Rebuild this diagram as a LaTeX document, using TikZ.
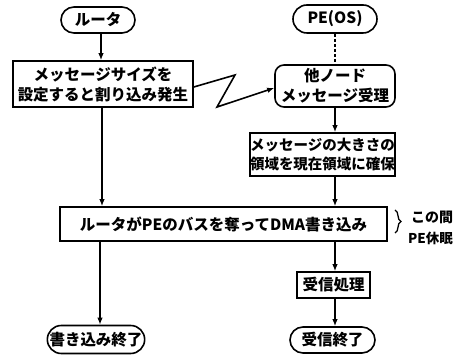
\documentclass[tikz,border=0pt]{standalone}
\usepackage{fontspec}
\setmainfont{Noto Sans CJK JP}
\usetikzlibrary{arrows.meta,decorations.pathreplacing,shapes.misc}
\begin{document}
\begin{tikzpicture}[x=1pt,y=-1pt,
  every node/.style={font=\bfseries\fontsize{15.5}{20}\selectfont, inner sep=0pt, align=center},
  term/.style={draw, line width=1.6pt, rounded rectangle},
  proc/.style={draw, line width=1.6pt, rectangle},
  rproc/.style={draw, line width=1.6pt, rectangle, rounded corners=9pt},
  flow/.style={line width=1.6pt, -{Latex[length=7pt,width=5.5pt]}}]
\useasboundingbox (0,0) rectangle (467,355);
\node[term, minimum width=74pt, minimum height=26pt] (ruta) at (98,20) {ルータ};
\node[proc, minimum width=180pt, minimum height=46pt] (b1) at (103,84) {メッセージサイズを\\設定すると割り込み発生};
\node[term, minimum width=84pt, minimum height=28pt] (peos) at (335,19) {PE(OS)};
\node[rproc, minimum width=120pt, minimum height=42pt] (recv) at (335,86) {他ノード\\メッセージ受理};
\node[proc, minimum width=139pt, minimum height=43pt, font=\bfseries\fontsize{14.5}{19}\selectfont] (b3) at (322.5,154.5) {メッセージの大きさの\\領域を現在領域に確保};
\node[proc, minimum width=327pt, minimum height=34pt] (b4) at (223.5,224) {ルータがPEのバスを奪ってDMA書き込み};
\node[proc, minimum width=73pt, minimum height=26pt] (b5) at (333.5,285) {受信処理};
\node[term, minimum width=96pt, minimum height=28pt] (e1) at (96,339.5) {書き込み終了};
\node[term, minimum width=85pt, minimum height=26pt] (e2) at (332.5,340) {受信終了};
\coordinate (z1) at (235,75);
\coordinate (z2) at (217,107);
\coordinate (bt) at (395,210);
\coordinate (bb) at (395,233);
\draw[flow] (ruta.south -| 101,0) -- (b1.north -| 101,0);
\draw[flow] (b1.south -| 102,0) -- (b4.north -| 102,0);
\draw[flow] (b4.south -| 100,0) -- (e1.north -| 100,0);
\draw[line width=1.6pt, dash pattern=on 3pt off 2pt] (peos.south) -- (recv.north);
\draw[flow] ([yshift=-3pt]b1.east) -- (z1) -- (z2) -- ([yshift=-2pt]recv.west);
\draw[flow] (recv.south -| 335,0) -- (b3.north -| 335,0);
\draw[flow] (b3.south -| 335,0) -- (b4.north -| 335,0);
\draw[flow] (b4.south -| 335,0) -- (b5.north -| 335,0);
\draw[flow] (b5.south -| 335,0) -- (e2.north -| 335,0);
\draw[line width=1.3pt, decoration={brace, amplitude=6pt}, decorate] (bt) -- (bb);
\node[anchor=west, font=\bfseries\fontsize{14}{16}\selectfont] (t1) at (411,217) {この間};
\node[anchor=west, font=\bfseries\fontsize{13.5}{16}\selectfont] (t2) at (408,238) {PE休眠};
\end{tikzpicture}
\end{document}
